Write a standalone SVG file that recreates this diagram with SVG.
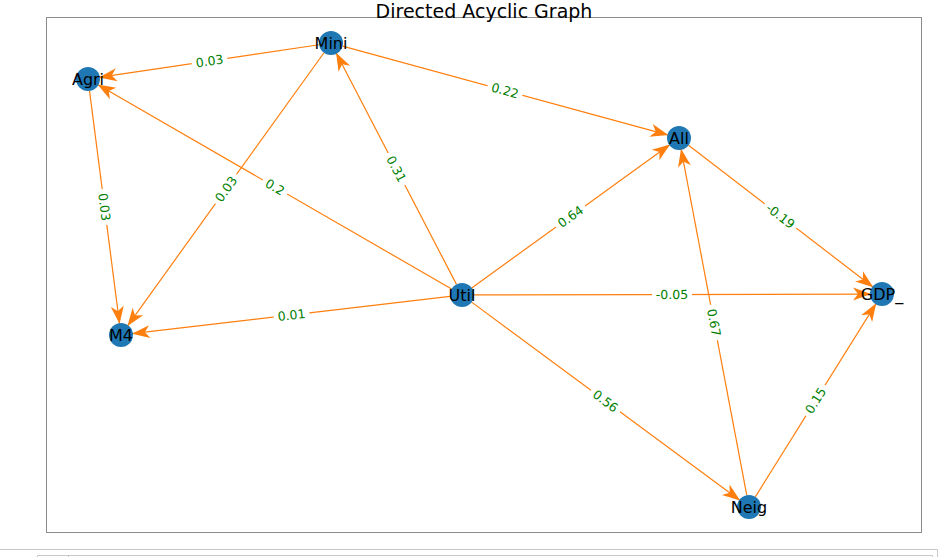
<svg xmlns="http://www.w3.org/2000/svg" width="951" height="557" viewBox="0 0 951 557">
<style>
.edge{stroke:#ff7f0e;stroke-width:1.2;fill:none;marker-end:url(#ah)}
.node circle{fill:#1f77b4}
.node text{font-family:"DejaVu Sans",sans-serif;font-size:16px;fill:#000;text-anchor:middle}
.el rect{fill:#fff}
.el text{font-family:"DejaVu Sans",sans-serif;font-size:12.5px;fill:#008000;text-anchor:middle}
.title{font-family:"DejaVu Sans",sans-serif;font-size:19px;fill:#000;text-anchor:middle}
.ui{stroke:#c8c8c8;stroke-width:1;fill:none}
</style>
<defs>
<marker id="ah" markerUnits="userSpaceOnUse" orient="auto" overflow="visible" refX="0" refY="0" markerWidth="1" markerHeight="1">
<path d="M0,0 L-18,-6.5 L-13,0 L-18,6.5 Z" fill="#ff7f0e"/>
</marker>
</defs>
<rect width="951" height="557" fill="#fff"/>
<rect x="46.5" y="17.5" width="875" height="515" fill="none" stroke="#8c8c8c" stroke-width="1"/>
<text class="title" x="484" y="17.8">Directed Acyclic Graph</text>
<g id="connectors">
<line class="edge" x1="319.13" y1="44.76" x2="98.88" y2="77.39"/>
<line class="edge" x1="342.58" y1="46.16" x2="668.39" y2="135.10"/>
<line class="edge" x1="451.61" y1="289.0" x2="97.53" y2="84.50"/>
<line class="edge" x1="324.0" y1="52.74" x2="127.42" y2="326.07"/>
<line class="edge" x1="89.53" y1="90.90" x2="119.59" y2="324.09"/>
<line class="edge" x1="456.47" y1="284.35" x2="336.07" y2="52.76"/>
<line class="edge" x1="471.72" y1="287.97" x2="670.09" y2="144.45"/>
<line class="edge" x1="688.51" y1="145.31" x2="873.28" y2="287.30"/>
<line class="edge" x1="474" y1="294.97" x2="871" y2="294.03"/>
<line class="edge" x1="450.08" y1="296.40" x2="131.93" y2="333.72"/>
<line class="edge" x1="471.65" y1="302.13" x2="740.15" y2="500.46"/>
<line class="edge" x1="746.76" y1="495.21" x2="681.05" y2="148.81"/>
<line class="edge" x1="755.36" y1="496.82" x2="876.17" y2="303.33"/>
</g>
<g id="edge-labels">
<g class="el" transform="translate(209.5,61) rotate(-8.4)"><rect x="-18" y="-8" width="36" height="16"/><text y="4.5">0.03</text></g>
<g class="el" transform="translate(505,90.5) rotate(15.27)"><rect x="-18" y="-8" width="36" height="16"/><text y="4.5">0.22</text></g>
<g class="el" transform="translate(275,187) rotate(30)"><rect x="-14" y="-8" width="28" height="16"/><text y="4.5">0.2</text></g>
<g class="el" transform="translate(226,189) rotate(-54.3)"><rect x="-18" y="-8" width="36" height="16"/><text y="4.5">0.03</text></g>
<g class="el" transform="translate(104.5,207) rotate(82.65)"><rect x="-18" y="-8" width="36" height="16"/><text y="4.5">0.03</text></g>
<g class="el" transform="translate(396.5,169) rotate(62.5)"><rect x="-18" y="-8" width="36" height="16"/><text y="4.5">0.31</text></g>
<g class="el" transform="translate(570.5,216.5) rotate(-35.9)"><rect x="-18" y="-8" width="36" height="16"/><text y="4.5">0.64</text></g>
<g class="el" transform="translate(780.5,216) rotate(37.5)"><rect x="-20" y="-8" width="40" height="16"/><text y="4.5">-0.19</text></g>
<g class="el" transform="translate(672,294.5) rotate(-0.14)"><rect x="-20" y="-8" width="40" height="16"/><text y="4.5">-0.05</text></g>
<g class="el" transform="translate(291.5,315) rotate(-6.7)"><rect x="-18" y="-8" width="36" height="16"/><text y="4.5">0.01</text></g>
<g class="el" transform="translate(605.5,401) rotate(36.45)"><rect x="-18" y="-8" width="36" height="16"/><text y="4.5">0.56</text></g>
<g class="el" transform="translate(714,322.5) rotate(79.3)"><rect x="-18" y="-8" width="36" height="16"/><text y="4.5">0.67</text></g>
<g class="el" transform="translate(815.5,400.5) rotate(-58)"><rect x="-18" y="-8" width="36" height="16"/><text y="4.5">0.15</text></g>
</g>
<g id="node-Mini" class="node"><circle cx="331" cy="43" r="12"/><text x="331" y="48.5">Mini</text></g>
<g id="node-Agri" class="node"><circle cx="88" cy="79" r="12"/><text x="88" y="84.5">Agri</text></g>
<g id="node-All" class="node"><circle cx="679" cy="138" r="12"/><text x="679" y="143.5">All</text></g>
<g id="node-Util" class="node"><circle cx="462" cy="295" r="12"/><text x="462" y="300.5">Util</text></g>
<g id="node-GDP" class="node"><circle cx="882" cy="294" r="12"/><text x="882" y="299.5">GDP_</text></g>
<g id="node-M4" class="node"><circle cx="121" cy="335" r="12"/><text x="121" y="340.5">M4</text></g>
<g id="node-Neig" class="node"><circle cx="749" cy="507" r="12"/><text x="749" y="512.5">Neig</text></g>
<path class="ui" d="M0,549.5 H937.5 V557"/>
<path class="ui" d="M37.5,557 V555.5 H932.5 V557 M68.5,555.5 V557"/>
</svg>
